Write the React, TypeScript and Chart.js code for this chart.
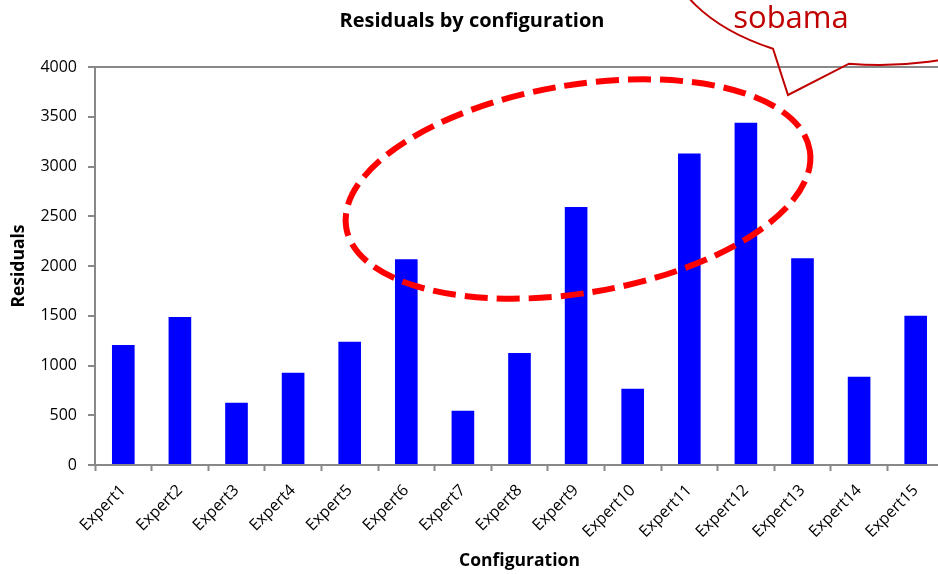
import React, { useEffect, useRef } from "react";
import { Chart, registerables } from "chart.js";

Chart.register(...registerables);

const categories = [
  "Expert1", "Expert2", "Expert3", "Expert4", "Expert5",
  "Expert6", "Expert7", "Expert8", "Expert9", "Expert10",
  "Expert11", "Expert12", "Expert13", "Expert14", "Expert15",
];
const residuals = [1206, 1487, 625, 927, 1238, 2067, 545, 1126, 2593, 766, 3130, 3440, 2077, 886, 1500];
const yMin = 0;
const yMax = 4000;
const yStep = 500;
const chartTitle = "Residuals by configuration";
const xTitle = "Configuration";
const yTitle = "Residuals";
const calloutText = "sobama";

const FONT = "'Open Sans', 'DejaVu Sans', sans-serif";

const annotationPlugin = {
  id: "annotations",
  afterDraw(chart: any) {
    const ctx = chart.ctx as CanvasRenderingContext2D;
    ctx.save();
    // red dashed ellipse
    ctx.strokeStyle = "#FF0000";
    ctx.lineWidth = 6;
    ctx.setLineDash([23, 9]);
    ctx.beginPath();
    ctx.ellipse(578, 189, 235, 104, -0.166, 0, Math.PI * 2);
    ctx.stroke();
    ctx.setLineDash([]);
    // speech bubble
    ctx.strokeStyle = "#C00000";
    ctx.lineWidth = 2;
    ctx.beginPath();
    ctx.ellipse(880, -55, 213, 120, 0, Math.PI, 2.097, true);
    ctx.lineTo(788, 95);
    ctx.ellipse(880, -55, 213, 120, 0, 1.717, 0, true);
    ctx.stroke();
    ctx.fillStyle = "#C00000";
    ctx.font = "31px 'Open Sans', sans-serif";
    ctx.textAlign = "center";
    ctx.textBaseline = "alphabetic";
    ctx.fillText(calloutText, 791, 28);
    ctx.restore();
  },
};

export default function App() {
  const ref = useRef<HTMLCanvasElement | null>(null);
  useEffect(() => {
    if (!ref.current) return;
    const chart = new Chart(ref.current, {
      type: "bar",
      data: {
        labels: categories,
        datasets: [
          {
            label: yTitle,
            data: residuals,
            backgroundColor: "#0000FF",
            borderWidth: 0,
            categoryPercentage: 1,
            barPercentage: 0.4,
          },
        ],
      },
      options: {
        responsive: false,
        animation: false,
        layout: { padding: { left: 0, right: 2, top: 0, bottom: 0 } },
        plugins: {
          legend: { display: false },
          tooltip: { enabled: false },
          title: {
            display: true,
            text: chartTitle,
            color: "#000",
            font: { family: FONT, size: 20, weight: "bold", lineHeight: 1.2 },
            padding: { top: 9, bottom: 34 },
          },
        },
        scales: {
          x: {
            afterFit: (s: any) => {
              s.height = 109;
            },
            grid: {
              offset: true,
              drawOnChartArea: false,
              tickLength: 6,
              tickColor: "#888",
              tickWidth: 2,
            },
            border: { color: "#888", width: 2 },
            ticks: {
              color: "#000",
              font: { family: FONT, size: 16 },
              minRotation: 45,
              maxRotation: 45,
              autoSkip: false,
              padding: 10,
            },
            title: {
              display: true,
              text: xTitle,
              color: "#000",
              font: { family: FONT, size: 17.5, weight: "bold", lineHeight: 1.2 },
              padding: { top: 0, bottom: 2 },
            },
          },
          y: {
            min: yMin,
            max: yMax,
            afterFit: (s: any) => {
              s.width = 95;
            },
            grid: {
              color: (c: any) => (c.tick && c.tick.value === yMax ? "#888" : "rgba(0,0,0,0)"),
              lineWidth: 2,
              tickColor: "#888",
              tickLength: 7,
              tickWidth: 2,
            },
            border: { color: "#888", width: 2 },
            ticks: {
              stepSize: yStep,
              color: "#000",
              font: { family: FONT, size: 16 },
              padding: 11,
              callback: (v: any) => String(v),
            },
            title: {
              display: true,
              text: yTitle,
              color: "#000",
              font: { family: FONT, size: 17.5, weight: "bold", lineHeight: 1.2 },
              padding: { top: 8.5, bottom: 0 },
            },
          },
        },
      },
      plugins: [annotationPlugin],
    } as any);
    return () => chart.destroy();
  }, []);
  return (
    <div style={{ position: "fixed", left: 0, top: 0, width: 938, height: 574, overflow: "hidden", background: "#fff" }}>
      <canvas ref={ref} width={946} height={574} style={{ display: "block" }} />
    </div>
  );
}
